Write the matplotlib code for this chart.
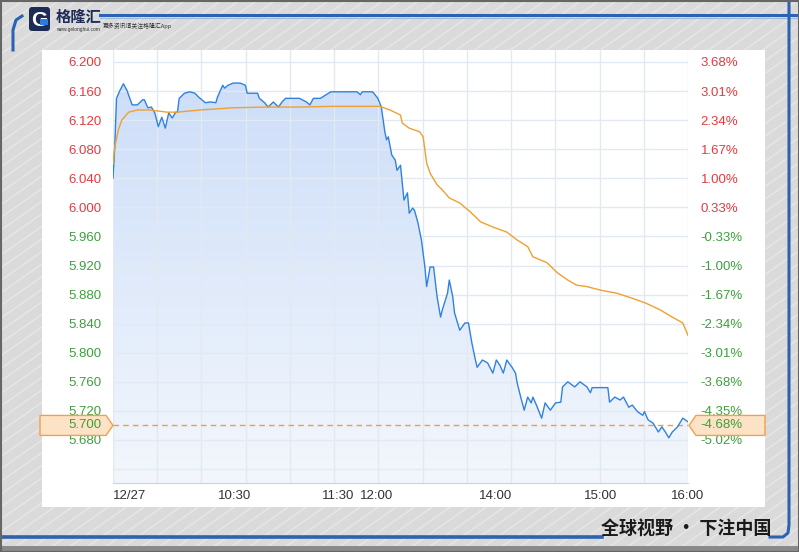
import numpy as np
import matplotlib
matplotlib.use('Agg')
import matplotlib.pyplot as plt
from matplotlib.patches import Polygon, Rectangle, FancyBboxPatch
from matplotlib.colors import LinearSegmentedColormap
from matplotlib.transforms import IdentityTransform

plt.rcParams['font.family'] = ['Liberation Sans', 'DejaVu Sans']
CJK = ['Noto Sans CJK SC', 'DejaVu Sans']

# price (minutes from 9:30, lunch break removed)
blue_min = [0, 1, 2, 4, 6, 8, 11, 14, 17, 18, 20, 22, 24, 26, 28, 30, 32, 34, 36, 37,
            38, 41, 44, 47, 49, 51, 53, 56, 59, 60, 63, 64, 66, 69, 73, 76, 77, 80, 83, 84,
            87, 89, 92, 95, 97, 99, 107, 111, 113, 115, 119, 125, 140, 142, 143, 149, 152, 154, 156, 157,
            158, 160, 162, 163, 165, 166, 167, 169, 170, 172, 173, 175, 177, 179, 180, 182, 184, 186, 188, 189,
            192, 193, 195, 196, 199, 202, 204, 206, 208, 209, 212, 215, 218, 220, 222, 224, 226, 229, 231, 232,
            234, 236, 238, 240, 241, 243, 246, 248, 251, 254, 257, 258, 261, 265, 268, 272, 274, 275, 284, 285,
            288, 291, 293, 296, 298, 301, 304, 305, 307, 310, 313, 315, 317, 319, 321, 324, 327, 330]
blue_px = [6.040, 6.083, 6.150, 6.161, 6.170, 6.161, 6.141, 6.141, 6.148, 6.148, 6.137, 6.138, 6.130, 6.111, 6.124, 6.109, 6.130, 6.123, 6.131, 6.131,
           6.150, 6.157, 6.159, 6.157, 6.152, 6.148, 6.144, 6.145, 6.144, 6.152, 6.168, 6.164, 6.168, 6.171, 6.171, 6.168, 6.157, 6.157, 6.157, 6.150,
           6.144, 6.138, 6.145, 6.138, 6.145, 6.150, 6.150, 6.145, 6.141, 6.150, 6.150, 6.159, 6.159, 6.155, 6.159, 6.159, 6.150, 6.138, 6.104, 6.093,
           6.097, 6.072, 6.065, 6.051, 6.058, 6.034, 6.010, 6.020, 5.992, 5.999, 5.996, 5.979, 5.955, 5.918, 5.891, 5.918, 5.918, 5.877, 5.849, 5.859,
           5.882, 5.900, 5.877, 5.855, 5.831, 5.841, 5.841, 5.813, 5.790, 5.780, 5.790, 5.786, 5.772, 5.790, 5.783, 5.772, 5.790, 5.780, 5.772, 5.758,
           5.739, 5.721, 5.739, 5.731, 5.739, 5.728, 5.710, 5.731, 5.721, 5.731, 5.732, 5.753, 5.760, 5.753, 5.760, 5.753, 5.745, 5.752, 5.752, 5.732,
           5.739, 5.735, 5.739, 5.725, 5.728, 5.719, 5.714, 5.719, 5.708, 5.703, 5.691, 5.698, 5.691, 5.683, 5.691, 5.698, 5.710, 5.705]

# average price
avg_min = [0, 1, 3, 5, 9, 14, 21, 31, 37, 50, 69, 88, 107, 126, 146, 153, 159, 165, 166, 170,
           176, 178, 180, 182, 186, 189, 193, 199, 205, 211, 218, 226, 232, 238, 241, 249, 255, 261, 266, 272,
           280, 289, 298, 306, 314, 321, 327, 330]
avg_px = [6.060, 6.083, 6.106, 6.120, 6.131, 6.134, 6.134, 6.131, 6.131, 6.134, 6.137, 6.138, 6.138, 6.139, 6.139, 6.139, 6.134, 6.127, 6.116, 6.109,
          6.104, 6.097, 6.061, 6.047, 6.031, 6.024, 6.013, 6.006, 5.994, 5.980, 5.973, 5.966, 5.955, 5.946, 5.932, 5.924, 5.910, 5.900, 5.893, 5.891,
          5.886, 5.882, 5.875, 5.868, 5.859, 5.849, 5.841, 5.824]

last_px = 5.700
last_pct = '-4.68%'

y_ticks = [6.20, 6.16, 6.12, 6.08, 6.04, 6.00, 5.96, 5.92, 5.88, 5.84, 5.80, 5.76, 5.72, 5.68]
y_labels = ['6.200', '6.160', '6.120', '6.080', '6.040', '6.000', '5.960', '5.920',
            '5.880', '5.840', '5.800', '5.760', '5.720', '5.680']
pct_labels = ['3.68%', '3.01%', '2.34%', '1.67%', '1.00%', '0.33%', '-0.33%', '-1.00%',
              '-1.67%', '-2.34%', '-3.01%', '-3.68%', '-4.35%', '-5.02%']
grid_y = y_ticks + [5.64]
x_ticks = [0, 60, 120, 151, 210, 270, 330]
x_labels = ['12/27', '10:30', '11:30', '12:00', '14:00', '15:00', '16:00']

RED = '#e8383d'
GREEN = '#3ca03c'
BLUE = '#2f82e0'
ORANGE = '#f0a030'
GRID = '#e3e9f0'

W, H = 799, 552
fig = plt.figure(figsize=(W / 100, H / 100), dpi=100)
fig.patch.set_facecolor('#dadada')

# background decoration in pixel coords
bg = fig.add_axes([0, 0, 1, 1], zorder=0)
bg.set_xlim(0, W)
bg.set_ylim(H, 0)
bg.axis('off')
for s in range(-820, 820, 18):
    bg.plot([s, s + 790], [H, 0], color='white', lw=1, alpha=0.35)
bg.add_patch(Rectangle((42, 50), 723, 457, fc='white', ec='none', zorder=2))
# frame lines
bg.plot([100, W], [15, 15], color='#2c62b2', lw=2.2, zorder=3)
bg.plot([100, W], [18, 18], color='#9fb8dc', lw=0.8, zorder=3)
bg.plot([13, 13, 16, 22], [50, 30, 20, 16], color='#2c62b2', lw=2.2, zorder=3)
bg.plot([0, 602], [537, 537], color='#2c62b2', lw=2.6, zorder=3)
bg.plot([770, 783, 788, 789, 789], [537, 537, 533, 525, 0], color='#2c62b2', lw=2.2, zorder=3)
bg.add_patch(Rectangle((0, 546), W, 6, fc='#8a8a8a', ec='none', zorder=3))
bg.add_patch(Rectangle((0.5, 0.5), W - 1, H - 1, fc='none', ec='#666666', lw=1.5, zorder=4))
# logo
bg.add_patch(FancyBboxPatch((29, 7), 21, 24, boxstyle='round,pad=0,rounding_size=3',
                            fc='#1d2b55', ec='none', zorder=3))
bg.text(39.5, 20, 'G', color='white', fontsize=15, fontweight='bold', ha='center', va='center', zorder=4)
bg.add_patch(Rectangle((40, 19), 8, 6, fc='#2c7be0', ec='none', zorder=4))
bg.text(56, 17, '格隆汇', family=CJK, fontsize=11, fontweight='bold', color='#1d2b55',
        ha='left', va='center', zorder=3)
bg.text(56, 30, 'www.gelonghui.com', fontsize=3.5, color='#333333', ha='left', va='center', zorder=3)
bg.text(103, 26, '更多资讯请关注格隆汇App', family=CJK, fontsize=4.2, color='#333333',
        ha='left', va='center', zorder=3)
bg.text(686, 529, '全球视野 · 下注中国', family=CJK, fontsize=13, fontweight='bold',
        color='#1a1a1a', ha='center', va='center', zorder=3)

# main chart
ax = fig.add_axes([113 / W, (H - 483) / H, 575 / W, 433 / H], zorder=2)
ax.set_facecolor('none')
ymin, ymax = 5.6208, 6.2165
xmax = 330

cmap = LinearSegmentedColormap.from_list('fill', ['#f3f7fd', '#cadcf8'])
grad = np.linspace(0, 1, 256).reshape(-1, 1)
im = ax.imshow(grad, extent=[0, xmax, ymin, ymax], origin='lower', aspect='auto',
               cmap=cmap, zorder=1)
verts = list(zip(blue_min, blue_px)) + [(xmax, ymin), (0, ymin)]
clip = Polygon(verts, closed=True, fc='none', ec='none', transform=ax.transData)
ax.add_patch(clip)
im.set_clip_path(clip)

for v in grid_y:
    ax.axhline(v, color=GRID, lw=1, zorder=2)
for xv in np.linspace(0, xmax, 14):
    ax.axvline(xv, color=GRID, lw=1, zorder=2)

ax.plot(blue_min, blue_px, color=BLUE, lw=1.0, zorder=4)
ax.plot(avg_min, avg_px, color=ORANGE, lw=1.0, zorder=4)
ax.axhline(last_px, color=ORANGE, lw=1, ls=(0, (4, 3)), zorder=3)

ax.set_xlim(0, xmax)
ax.set_ylim(ymin, ymax)
for sp in ['top', 'left', 'right']:
    ax.spines[sp].set_visible(False)
ax.spines['bottom'].set_color('#ccd4dd')

ax.set_xticks(x_ticks)
ax.set_xticklabels(x_labels)
ax.tick_params(axis='x', length=0, pad=5, labelsize=9.5, labelcolor='#333333')
for lab, t in zip(ax.get_xticklabels(), x_ticks):
    if t == 151 or t == xmax:
        lab.set_horizontalalignment('center')
    else:
        lab.set_horizontalalignment('left')

ax.set_yticks(y_ticks)
ax.set_yticklabels(y_labels)
ax.tick_params(axis='y', length=0, pad=8, labelsize=9.5)
for lab, v in zip(ax.get_yticklabels(), y_ticks):
    lab.set_color(RED if v >= 6.0 else GREEN)

ax2 = ax.twinx()
ax2.set_ylim(ymin, ymax)
ax2.set_yticks(y_ticks)
ax2.set_yticklabels(pct_labels)
ax2.tick_params(axis='y', length=0, pad=9, labelsize=9.5)
for sp in ax2.spines.values():
    sp.set_visible(False)
for lab, v in zip(ax2.get_yticklabels(), y_ticks):
    lab.set_color(RED if v >= 6.0 else GREEN)

# last price markers on both sides
x0, y0 = ax.transData.transform((0, last_px))
x1, _ = ax.transData.transform((xmax, last_px))
left_box = Polygon([(x0 - 73, y0 + 10), (x0 - 7, y0 + 10), (x0, y0), (x0 - 7, y0 - 10), (x0 - 73, y0 - 10)],
                   closed=True, fc='#fce3c6', ec='#f0a050', lw=1, transform=IdentityTransform(), zorder=5)
right_box = Polygon([(x1 + 77, y0 + 10), (x1 + 8, y0 + 10), (x1 + 1, y0), (x1 + 8, y0 - 10), (x1 + 77, y0 - 10)],
                    closed=True, fc='#fce3c6', ec='#f0a050', lw=1, transform=IdentityTransform(), zorder=5)
fig.add_artist(left_box)
fig.add_artist(right_box)
fig.text((x0 - 11) / W, y0 / H, f'{last_px:.3f}', color=GREEN, fontsize=9.5,
         ha='right', va='center', zorder=6)
fig.text((x1 + 12) / W, y0 / H, last_pct, color=GREEN, fontsize=9.5,
         ha='left', va='center', zorder=6)

fig.savefig('out.png', dpi=100)
